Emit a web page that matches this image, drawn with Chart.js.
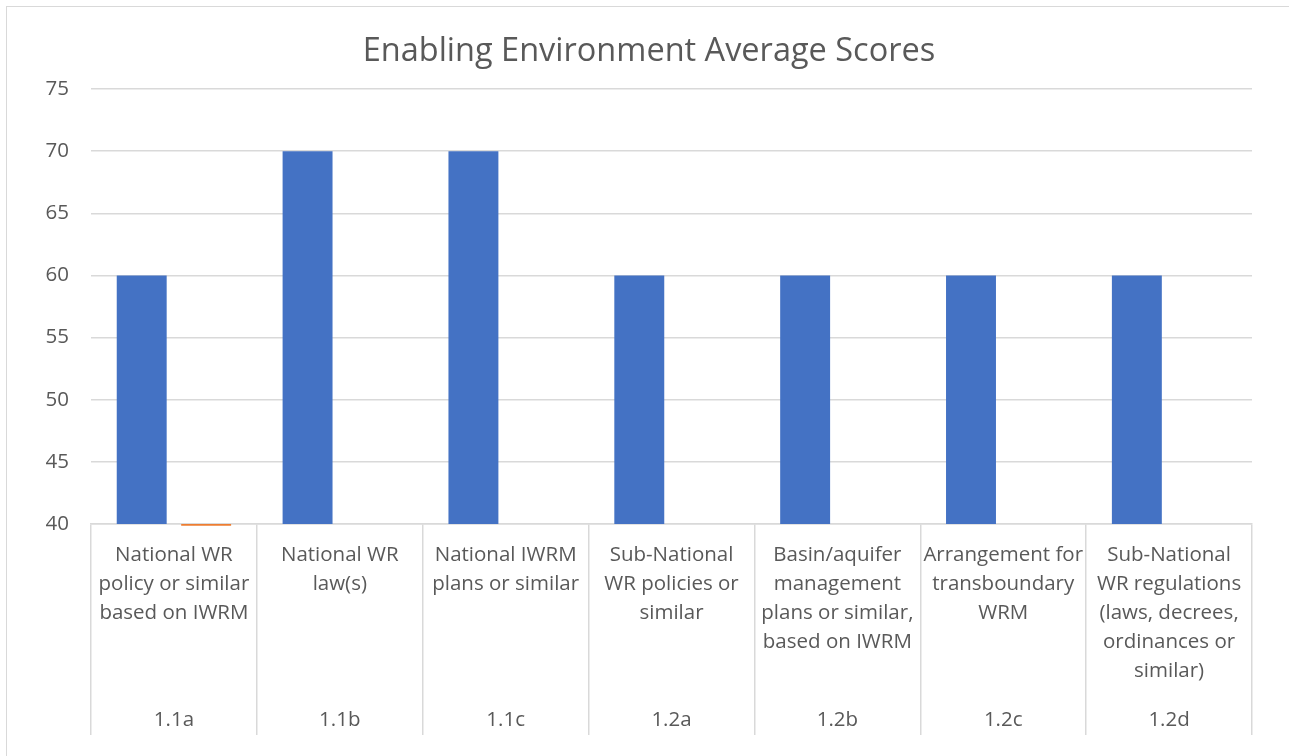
<!DOCTYPE html>
<html>
<head>
<meta charset="utf-8">
<script src="https://cdn.jsdelivr.net/npm/chart.js@4.4.1/dist/chart.umd.min.js"></script>
<style>
  html, body { margin: 0; padding: 0; overflow: hidden; background: #fff; width: 1289px; height: 756px; }
  #frame { position: absolute; left: 6px; top: 6px; width: 1300px; height: 800px; border: 1.5px solid #d9d9d9; box-sizing: border-box; pointer-events: none; }
  canvas { position: absolute; left: 0; top: 0; }
</style>
</head>
<body>
<canvas id="c" width="1289" height="756"></canvas>
<div id="frame"></div>
<script>
const titleText = "Enabling Environment Average Scores";
const categoryNames = [
  ["National WR", "policy or similar", "based on IWRM"],
  ["National WR", "law(s)"],
  ["National IWRM", "plans or similar"],
  ["Sub-National", "WR policies or", "similar"],
  ["Basin/aquifer", "management", "plans or similar,", "based on IWRM"],
  ["Arrangement for", "transboundary", "WRM"],
  ["Sub-National", "WR regulations", "(laws, decrees,", "ordinances or", "similar)"]
];
const categoryCodes = ["1.1a", "1.1b", "1.1c", "1.2a", "1.2b", "1.2c", "1.2d"];
const averageScores = [60, 70, 70, 60, 60, 60, 60];
// second series: a near-zero sliver sitting just under the axis minimum at 1.1a
const secondSeries = [[39.85, 40], null, null, null, null, null, null];
const yTicks = [40, 45, 50, 55, 60, 65, 70, 75];

const textColor = "#595959";
const gridColor = "#d9d9d9";
const labelFont = { family: "'Open Sans', sans-serif", size: 20.5, lineHeight: "29px" };

new Chart(document.getElementById("c"), {
  type: "bar",
  data: {
    labels: categoryNames,
    datasets: [
      { label: "Average score", data: averageScores, backgroundColor: "#4472C4", xAxisID: "x", yAxisID: "y" },
      { label: "Series 2", data: secondSeries, backgroundColor: "#ED7D31", xAxisID: "x", yAxisID: "y", clip: false }
    ]
  },
  options: {
    responsive: false,
    animation: false,
    devicePixelRatio: 1,
    layout: { padding: { left: 46, right: 37, top: 0, bottom: 21 } },
    datasets: { bar: { categoryPercentage: 0.777, barPercentage: 0.775 } },
    plugins: {
      legend: { display: false },
      tooltip: { enabled: false },
      title: {
        display: true,
        text: titleText,
        color: textColor,
        font: { family: "'Open Sans', sans-serif", size: 32.5, weight: "normal", lineHeight: 1.2 },
        padding: { top: 32, bottom: 18 }
      }
    },
    scales: {
      y: {
        min: yTicks[0],
        max: yTicks[yTicks.length - 1],
        afterBuildTicks: (s) => { s.ticks = yTicks.map(v => ({ value: v })); },
        afterFit: (s) => { s.width = 45; },
        ticks: { color: textColor, font: { family: "'Open Sans', sans-serif", size: 20.5 }, padding: 22 },
        grid: { color: gridColor, lineWidth: 1.5, drawTicks: false },
        border: { display: false }
      },
      x: {
        type: "category",
        position: "bottom",
        weight: 0,
        offset: true,
        afterFit: (s) => { s.height = 164; },
        ticks: { color: textColor, font: labelFont, autoSkip: false, maxRotation: 0, minRotation: 0, padding: -147.5 },
        grid: { display: true, drawOnChartArea: false, drawTicks: true, tickLength: 164, color: gridColor, lineWidth: 1.5, offset: true },
        border: { display: true, color: gridColor, width: 1.5 }
      },
      x2: {
        type: "category",
        position: "bottom",
        weight: 1,
        offset: true,
        labels: categoryCodes,
        afterFit: (s) => { s.height = 47; },
        ticks: { color: textColor, font: labelFont, autoSkip: false, maxRotation: 0, minRotation: 0, padding: -29.5 },
        grid: { display: true, drawOnChartArea: false, drawTicks: true, tickLength: 47, color: gridColor, lineWidth: 1.5, offset: true },
        border: { display: false }
      }
    }
  }
});
</script>
</body>
</html>
